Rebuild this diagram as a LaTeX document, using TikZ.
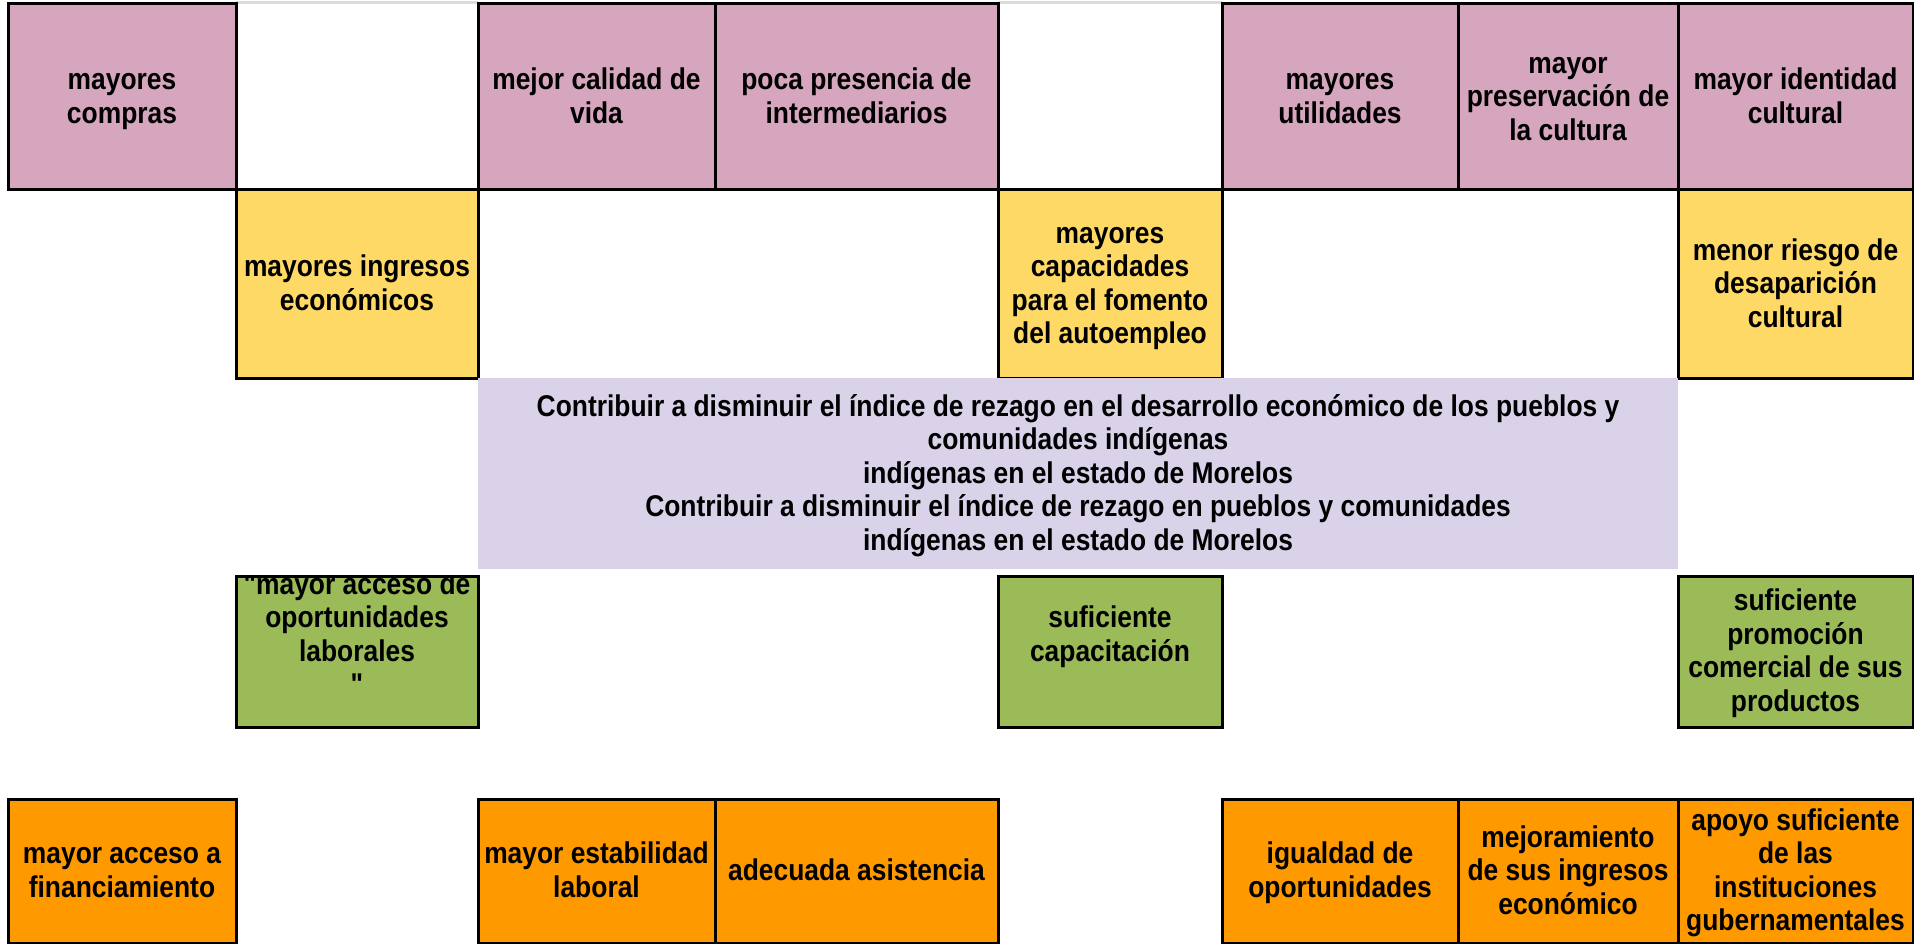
\documentclass[tikz,border=0pt]{standalone}
\usepackage{fontspec}
\setmainfont{Liberation Sans}[FakeStretch=0.88, Ligatures=TeXOff]
\definecolor{pinkc}{HTML}{D5A6BD}
\definecolor{yelc}{HTML}{FFD966}
\definecolor{lavc}{HTML}{D9D2E9}
\definecolor{grnc}{HTML}{9BBB59}
\definecolor{orgc}{HTML}{FF9900}
\definecolor{gridc}{HTML}{DCDCDC}
\tikzset{
  celltext/.style={inner sep=0pt, outer sep=0pt, yshift=-3pt,
    font=\bfseries\fontsize{30}{33.5}\selectfont},
  cellbox/.style={draw=black, line width=3pt, anchor=north west, inner sep=0pt, outer sep=0pt},
  lavbox/.style={cellbox, draw=none},
  gridline/.style={gridc, line width=3pt},
  borderline/.style={black, line width=3pt}
}
\newcommand\lines[1]{\begin{tabular}{@{}c@{}}#1\end{tabular}}
\newcommand\mycell[7]{%
  \node[cellbox,fill=#2,minimum width=#5pt-#3pt,minimum height=#6pt-#4pt] (#1) at (#3,#4) {};
  \node[celltext] (#1t) at (#1.center) {\lines{#7}};}
\begin{document}
\begin{tikzpicture}[x=1pt,y=-1pt]
\useasboundingbox (0,0) rectangle (1914,944);
\fill[white] (0,0) rectangle (1914,944);
% light grid line at top of the empty cells
\coordinate (ga) at (236,3); \coordinate (gb) at (478,3);
\coordinate (gc) at (998,3); \coordinate (gd) at (1222,3);
\draw[gridline] (ga) -- (gb);
\draw[gridline] (gc) -- (gd);
% top row
\mycell{t1}{pinkc}{8}{4}{236}{190}{mayores\\compras}
\mycell{t3}{pinkc}{478}{4}{715}{190}{mejor calidad de\\vida}
\mycell{t4}{pinkc}{715}{4}{998}{190}{poca presencia de\\intermediarios}
\mycell{t6}{pinkc}{1222}{4}{1458}{190}{mayores\\utilidades}
\mycell{t7}{pinkc}{1458}{4}{1678}{190}{mayor\\preservación de\\la cultura}
\mycell{t8}{pinkc}{1678}{4}{1913}{190}{mayor identidad\\cultural}
% yellow row
\mycell{y2}{yelc}{236}{190}{478}{378}{mayores ingresos\\económicos}
\mycell{y5}{yelc}{998}{190}{1222}{378}{mayores\\capacidades\\para el fomento\\del autoempleo}
\mycell{y8}{yelc}{1678}{190}{1913}{378}{menor riesgo de\\desaparición\\cultural}
% central objective
\node[lavbox,fill=lavc,minimum width=1200pt,minimum height=191pt] (obj) at (478,378) {};
\node[celltext] (objt) at (obj.center) {\lines{%
  Contribuir a disminuir el índice de rezago en el desarrollo económico de los pueblos y\\
  comunidades indígenas\\
  indígenas en el estado de Morelos\\
  Contribuir a disminuir el índice de rezago en pueblos y comunidades\\
  indígenas en el estado de Morelos}};
% green row
\node[cellbox,fill=grnc,minimum width=242pt,minimum height=151pt] (g2) at (236,576) {};
\begin{scope}
\clip (236,576) rectangle (478,727);
\node[celltext] (g2t) at (g2.center) {\lines{"mayor acceso de\\oportunidades\\laborales\\"\\ \mbox{}}};
\end{scope}
\draw[borderline] (g2.north west) rectangle (g2.south east);
\mycell{g5}{grnc}{998}{576}{1222}{727}{suficiente\\capacitación\\ \mbox{}}
\mycell{g8}{grnc}{1678}{576}{1913}{727}{suficiente\\promoción\\comercial de sus\\productos}
% orange row
\mycell{o1}{orgc}{8}{799}{236}{943}{mayor acceso a\\financiamiento}
\mycell{o3}{orgc}{478}{799}{715}{943}{mayor estabilidad\\laboral}
\mycell{o4}{orgc}{715}{799}{998}{943}{adecuada asistencia}
\mycell{o6}{orgc}{1222}{799}{1458}{943}{igualdad de\\oportunidades}
\mycell{o7}{orgc}{1458}{799}{1678}{943}{mejoramiento\\de sus ingresos\\económico}
\mycell{o8}{orgc}{1678}{799}{1913}{943}{apoyo suficiente\\de las\\instituciones\\gubernamentales}
\end{tikzpicture}
\end{document}
